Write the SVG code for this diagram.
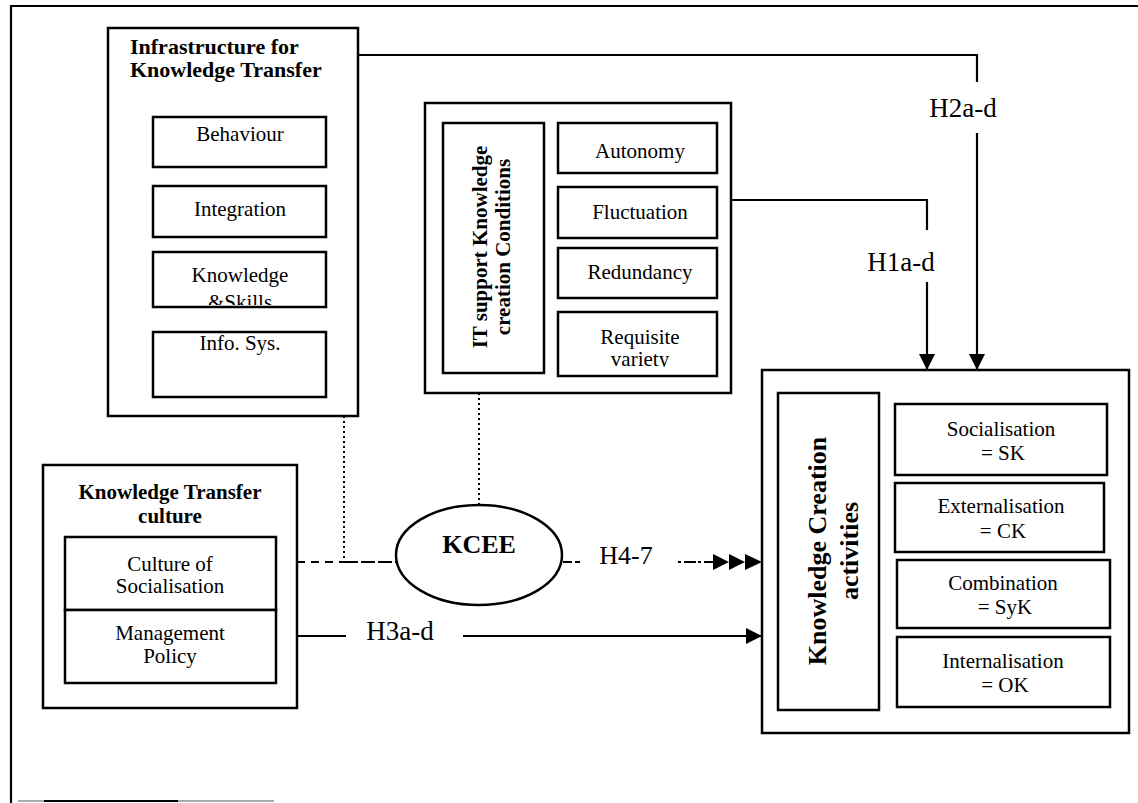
<svg xmlns="http://www.w3.org/2000/svg" width="1138" height="803" viewBox="0 0 1138 803">
<style>
.box{fill:#fff;stroke:#000;stroke-width:2.5}
.t{font-family:"Liberation Serif","Times New Roman",serif;font-size:21px;fill:#000;text-anchor:middle}
.b{font-weight:bold}
.l{text-anchor:start}
.h{font-size:27px}
.ln{fill:none;stroke:#000;stroke-width:2.2}
.dot{fill:none;stroke:#000;stroke-width:2;stroke-dasharray:2,3}
</style>
<defs>
<marker id="ah" markerUnits="userSpaceOnUse" markerWidth="17" markerHeight="17" refX="16" refY="8" orient="auto">
<path d="M0,0 L16,8 L0,16 z" fill="#000"/>
</marker>
<clipPath id="clipKS"><rect x="153" y="252" width="173" height="53"/></clipPath>
<clipPath id="clipRV"><rect x="558" y="312" width="159" height="55"/></clipPath>
</defs>
<rect width="1138" height="803" fill="#fff"/>
<g id="frame">
<path class="ln" d="M11,803 V6 H1138"/>
<path d="M18,801 H274" stroke="#aaa" stroke-width="2"/>
<path d="M44,801 H178" stroke="#000" stroke-width="2"/>
</g>
<g id="infrastructure">
<rect class="box" x="108" y="28" width="250" height="388"/>
<text class="t b l" x="130" y="54" style="font-size:22px">Infrastructure for</text>
<text class="t b l" x="130" y="77" style="font-size:22px">Knowledge Transfer</text>
<rect class="box" x="153" y="117" width="173" height="50"/>
<text class="t" x="240" y="141">Behaviour</text>
<rect class="box" x="153" y="186" width="173" height="51"/>
<text class="t" x="240" y="216">Integration</text>
<rect class="box" x="153" y="252" width="173" height="55"/>
<text class="t" x="240" y="282">Knowledge</text>
<text class="t" x="240" y="309" clip-path="url(#clipKS)">&amp;Skills</text>
<rect class="box" x="153" y="332" width="173" height="65"/>
<text class="t" x="240" y="350">Info. Sys.</text>
</g>
<g id="it-support">
<rect class="box" x="425" y="103" width="306" height="290"/>
<rect class="box" x="443" y="123" width="101" height="250"/>
<text class="t b" transform="translate(487,247) rotate(-90)">IT support Knowledge</text>
<text class="t b" transform="translate(510,247) rotate(-90)">creation Conditions</text>
<rect class="box" x="558" y="123" width="159" height="50"/>
<text class="t" x="640" y="158">Autonomy</text>
<rect class="box" x="558" y="187" width="159" height="51"/>
<text class="t" x="640" y="219">Fluctuation</text>
<rect class="box" x="558" y="248" width="159" height="50"/>
<text class="t" x="640" y="279">Redundancy</text>
<rect class="box" x="558" y="312" width="159" height="64"/>
<text class="t" x="640" y="344">Requisite</text>
<text class="t" x="640" y="366" clip-path="url(#clipRV)">variety</text>
</g>
<g id="kt-culture">
<rect class="box" x="43" y="465" width="254" height="243"/>
<text class="t b" x="170" y="499">Knowledge Transfer</text>
<text class="t b" x="170" y="523">culture</text>
<rect class="box" x="65" y="537" width="211" height="73"/>
<text class="t" x="170" y="571">Culture of</text>
<text class="t" x="170" y="593">Socialisation</text>
<rect class="box" x="65" y="610" width="211" height="73"/>
<text class="t" x="170" y="640">Management</text>
<text class="t" x="170" y="663">Policy</text>
</g>
<g id="kcee">
<ellipse cx="479" cy="555" rx="83" ry="50" fill="#fff" stroke="#000" stroke-width="2.5"/>
<text class="t b" x="479" y="553" style="font-size:26px">KCEE</text>
</g>
<g id="kc-activities">
<rect class="box" x="762" y="370" width="367" height="363"/>
<rect class="box" x="778" y="393" width="101" height="317"/>
<text class="t b" transform="translate(826,551) rotate(-90)" style="font-size:26px">Knowledge Creation</text>
<text class="t b" transform="translate(858,551) rotate(-90)" style="font-size:26px">activities</text>
<rect class="box" x="895" y="404" width="212" height="71"/>
<text class="t" x="1001" y="436">Socialisation</text>
<text class="t" x="1003" y="460">= SK</text>
<rect class="box" x="895" y="483" width="209" height="69"/>
<text class="t" x="1001" y="513">Externalisation</text>
<text class="t" x="1003" y="538">= CK</text>
<rect class="box" x="897" y="560" width="213" height="68"/>
<text class="t" x="1003" y="590">Combination</text>
<text class="t" x="1005" y="614">= SyK</text>
<rect class="box" x="897" y="637" width="213" height="70"/>
<text class="t" x="1003" y="668">Internalisation</text>
<text class="t" x="1005" y="692">= OK</text>
</g>
<g id="connectors">
<path class="ln" d="M358,55 H977 V82"/>
<path class="ln" d="M977,133 V370" marker-end="url(#ah)"/>
<text class="t h" x="963" y="117">H2a-d</text>
<path class="ln" d="M731,200 H927 V230"/>
<path class="ln" d="M927,282 V370" marker-end="url(#ah)"/>
<text class="t h" x="901" y="271">H1a-d</text>
<path class="ln" d="M297,636 H346"/>
<path class="ln" d="M463,636 H762" marker-end="url(#ah)"/>
<text class="t h" x="400" y="640">H3a-d</text>
<path class="ln" d="M297,562 H344" stroke-dasharray="8,6"/>
<path class="ln" d="M344,562 H396" stroke-dasharray="14,3"/>
<path class="dot" d="M344,416 V562"/>
<path class="dot" d="M479,393 V505"/>
<path class="ln" d="M563,562 H580" stroke-dasharray="9,3"/>
<text class="t" x="626" y="564" style="font-size:26px">H4-7</text>
<path class="ln" d="M678,562 H713" stroke-dasharray="3,3,12,2"/>
<path d="M713,554 L729,562 L713,570 z M729,554 L745,562 L729,570 z M745,554 L762,562 L745,570 z" fill="#000"/>
</g>
</svg>
